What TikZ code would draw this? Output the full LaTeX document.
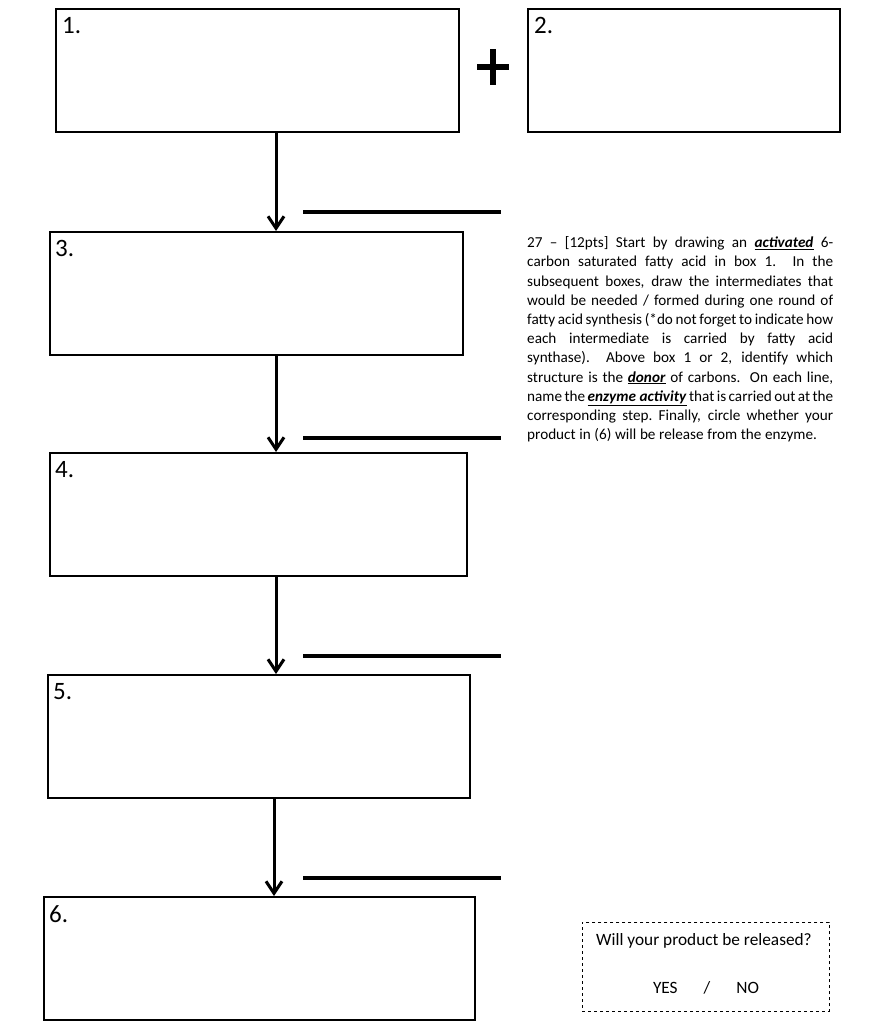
\documentclass[tikz,border=0pt]{standalone}
\usepackage{fontspec}
\setmainfont{Carlito}
\usetikzlibrary{arrows.meta}
\newcommand{\kw}[1]{\underline{\textbf{\textit{#1}}}}
\newcommand{\jl}[1]{\hbox to 306pt{#1}\par}
\begin{document}
\begin{tikzpicture}[x=1pt,y=-1pt,
  box/.style={draw,line width=1.6pt,anchor=north west,inner sep=0pt},
  lbl/.style={anchor=north west,inner sep=0pt,font=\fontsize{25}{28}\selectfont},
  arr/.style={line width=3pt,-{Straight Barb[length=12pt,width=16pt,line width=3pt]}},
  ansline/.style={line width=3.2pt},
]
\useasboundingbox (0,0) rectangle (881,1024);
% boxes
\node[box,minimum width=403pt,minimum height=123pt] (b1) at (55,8) {};
\node[box,minimum width=312pt,minimum height=123pt] (b2) at (527,8) {};
\node[box,minimum width=413pt,minimum height=123pt] (b3) at (49,231) {};
\node[box,minimum width=417pt,minimum height=123pt] (b4) at (49,452) {};
\node[box,minimum width=422pt,minimum height=123pt] (b5) at (47,674) {};
\node[box,minimum width=431pt,minimum height=123pt] (b6) at (43,896) {};
% labels
\node[lbl] (l1) at (62,17) {1.};
\node[lbl] (l2) at (534,17) {2.};
\node[lbl] (l3) at (55,240) {3.};
\node[lbl] (l4) at (55,461) {4.};
\node[lbl] (l5) at (53,683) {5.};
\node[lbl] (l6) at (49,905) {6.};
% plus
\coordinate (pc) at (493,67);
\draw[line width=6pt] ([xshift=-16pt]pc) -- ([xshift=16pt]pc);
\draw[line width=6pt] ([yshift=-18pt]pc) -- ([yshift=18pt]pc);
% arrows
\coordinate (ax1) at (276,0);
\coordinate (ax2) at (276,0);
\coordinate (ax3) at (276,0);
\coordinate (ax4) at (274,0);
\draw[arr] (b1.south -| ax1) -- (b3.north -| ax1);
\draw[arr] (b3.south -| ax2) -- (b4.north -| ax2);
\draw[arr] (b4.south -| ax3) -- (b5.north -| ax3);
\draw[arr] (b5.south -| ax4) -- (b6.north -| ax4);
% answer lines
\coordinate (s1) at (303,212); \coordinate (e1) at (501,212);
\coordinate (s2) at (303,438); \coordinate (e2) at (501,438);
\coordinate (s3) at (303,656); \coordinate (e3) at (501,656);
\coordinate (s4) at (303,878); \coordinate (e4) at (501,878);
\draw[ansline] (s1) -- (e1);
\draw[ansline] (s2) -- (e2);
\draw[ansline] (s3) -- (e3);
\draw[ansline] (s4) -- (e4);
% paragraph
\node[anchor=north west,inner sep=0pt,text width=306pt,align=left,
      font=\fontsize{15.2}{19.2}\selectfont] (para) at (527,236.5)
{\spaceskip=0.24em plus 0.6em minus 0.08em\relax\xspaceskip=\spaceskip\hfuzz=20pt\relax
\jl{27 -- [12pts] Start by drawing an \kw{activated} 6-}
\jl{carbon saturated fatty acid in box 1.\ \ In the}
\jl{subsequent boxes, draw the intermediates that}
\jl{would be needed / formed during one round of}
\jl{fatty acid synthesis (*do not forget to indicate how}
\jl{each intermediate is carried by fatty acid}
\jl{synthase).\ \ Above box 1 or 2, identify which}
\jl{structure is the \kw{donor} of carbons.\ \ On each line,}
\jl{name the \kw{enzyme activity} that is carried out at the}
\jl{corresponding step. Finally, circle whether your}
\hbox{product in (6) will be release from the enzyme.}};
% dashed box
\node[draw,dashed,line width=0.9pt,anchor=north west,minimum width=247pt,minimum height=89pt,inner sep=0pt] (q) at (582,922) {};
\node[font=\fontsize{17.3}{20}\selectfont] (qt) at (704,941) {Will your product be released?};
\node[font=\fontsize{17.3}{20}\selectfont] (yn) at (706,988) {YES\hspace{26pt}/\hspace{26pt}NO};
\end{tikzpicture}
\end{document}
